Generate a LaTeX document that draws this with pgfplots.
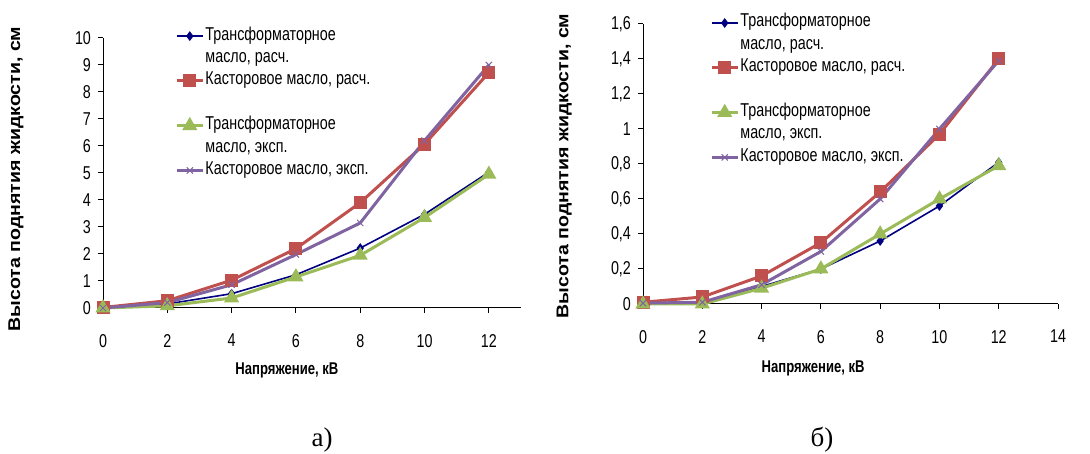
\documentclass[border=0pt]{standalone}
\usepackage{fontspec}
\setmainfont{Liberation Sans}[FakeStretch=0.77]
\newfontfamily\ylabfont{Liberation Sans}[FakeStretch=1.15]
\newfontfamily\capfont{Liberation Serif}
\usepackage{pgfplots}
\pgfplotsset{compat=1.18}
\definecolor{cblue}{RGB}{0,0,128}
\definecolor{cred}{RGB}{192,80,77}
\definecolor{cgreen}{RGB}{155,187,89}
\definecolor{cpurple}{RGB}{128,100,162}
\pgfplotsset{
  common/.style={
    scale only axis,
    axis x line=bottom, axis y line=left,
    axis line style={-, black, line width=0.5pt},
    tick style={black, line width=0.5pt},
    tick align=outside,
    major tick length=2.5pt,
    /pgf/number format/assume math mode=true,
    /pgf/number format/use comma,
    ticklabel style={font=\fontsize{9.3}{10}\selectfont},
    xticklabel style={yshift=-7pt},
    xlabel={Напряжение, кВ},
    ylabel={Высота поднятия жидкости, см},
    xlabel style={font=\fontsize{8.5}{10}\selectfont\bfseries, anchor=center},
    ylabel style={font=\fontsize{8.5}{10}\selectfont\ylabfont\bfseries, anchor=center},
    clip=false,
    legend cell align=left,
    legend style={draw=none, fill=none, inner sep=0pt, row sep=0pt,
      font=\fontsize{9.3}{10}\selectfont,
      nodes={inner xsep=0.6pt, inner ysep=0pt, text height=7.6pt, text depth=3.6pt},
      anchor=north west},
    legend image code/.code={\draw[mark repeat=2,mark phase=2] plot coordinates {(0pt,0pt)(6.5pt,0pt)(13pt,0pt)};},
  },
  sblue/.style={color=cblue, line width=0.8pt, mark=diamond*, mark size=1.8pt, mark options={solid}},
  sred/.style={color=cred, line width=1.5pt, mark=square*, mark size=2.5pt, mark options={solid}},
  sgreen/.style={color=cgreen, line width=1.5pt, mark=triangle*, mark size=2.9pt, mark options={solid}},
  spurple/.style={color=cpurple, line width=1.5pt, mark=x, mark size=2.2pt, mark options={solid, line width=0.5pt}},
  snone/.style={draw opacity=0, opacity=0, mark=none},
}
\begin{document}
\begin{tikzpicture}
\path[use as bounding box] (0pt,0pt) rectangle (545pt,227pt);
% ---------- a) ----------
\begin{axis}[common,
  at={(51.5pt,73pt)}, anchor=south west,
  width=209pt, height=135pt,
  xmin=0, xmax=13, ymin=0, ymax=10,
  xtick={0,2,4,6,8,10,12},
  ytick={0,1,2,3,4,5,6,7,8,9,10},
  xlabel style={at={(axis description cs:0.44,-0.23)}},
  ylabel style={at={(axis description cs:-0.208,0.478)}},
  legend style={at={(axis description cs:0.172,1.05)}},
]
\addplot[sblue, forget plot] coordinates {(0,0)(2,0.15)(4,0.53)(6,1.23)(8,2.22)(10,3.47)(12,5.03)};
\addplot[sred, forget plot] coordinates {(0,0.02)(2,0.27)(4,1.03)(6,2.2)(8,3.9)(10,6.07)(12,8.72)};
\addplot[sgreen, forget plot] coordinates {(0,0)(2,0.08)(4,0.37)(6,1.15)(8,1.95)(10,3.35)(12,4.95)};
\addplot[spurple, forget plot] coordinates {(0,0)(2,0.2)(4,0.86)(6,1.98)(8,3.15)(10,6.2)(12,9.0)};
\addlegendimage{sblue}\addlegendentry{Трансформаторное}
\addlegendimage{snone}\addlegendentry{масло, расч.}
\addlegendimage{sred}\addlegendentry{Касторовое масло, расч.}
\addlegendimage{snone}\addlegendentry{}
\addlegendimage{sgreen}\addlegendentry{Трансформаторное}
\addlegendimage{snone}\addlegendentry{масло, эксп.}
\addlegendimage{spurple}\addlegendentry{Касторовое масло, эксп.}
\end{axis}
% ---------- б) ----------
\begin{axis}[common,
  at={(321.5pt,75pt)}, anchor=south west,
  width=207.5pt, height=140pt,
  xmin=0, xmax=14, ymin=0, ymax=1.6,
  xtick={0,2,4,6,8,10,12,14},
  ytick={0,0.2,0.4,0.6,0.8,1,1.2,1.4,1.6},
  yticklabel style={/pgf/number format/fixed},
  xlabel style={at={(axis description cs:0.41,-0.229)}},
  ylabel style={at={(axis description cs:-0.19,0.493)}},
  legend style={at={(axis description cs:0.161,1.045)}},
]
\addplot[sblue, forget plot] coordinates {(0,0.005)(2,0.01)(4,0.1)(6,0.2)(8,0.36)(10,0.56)(12,0.81)};
\addplot[sred, forget plot] coordinates {(0,0.01)(2,0.04)(4,0.16)(6,0.35)(8,0.64)(10,0.97)(12,1.4)};
\addplot[sgreen, forget plot] coordinates {(0,0)(2,0)(4,0.09)(6,0.2)(8,0.4)(10,0.6)(12,0.79)};
\addplot[spurple, forget plot] coordinates {(0,0.005)(2,0.01)(4,0.11)(6,0.3)(8,0.6)(10,1.0)(12,1.39)};
\addlegendimage{sblue}\addlegendentry{Трансформаторное}
\addlegendimage{snone}\addlegendentry{масло, расч.}
\addlegendimage{sred}\addlegendentry{Касторовое масло, расч.}
\addlegendimage{snone}\addlegendentry{}
\addlegendimage{sgreen}\addlegendentry{Трансформаторное}
\addlegendimage{snone}\addlegendentry{масло, эксп.}
\addlegendimage{spurple}\addlegendentry{Касторовое масло, эксп.}
\end{axis}
\node[font=\fontsize{13.5}{14}\selectfont\capfont] at (161pt,7pt) {а)};
\node[font=\fontsize{13.5}{14}\selectfont\capfont] at (411pt,7pt) {б)};
\end{tikzpicture}
\end{document}
